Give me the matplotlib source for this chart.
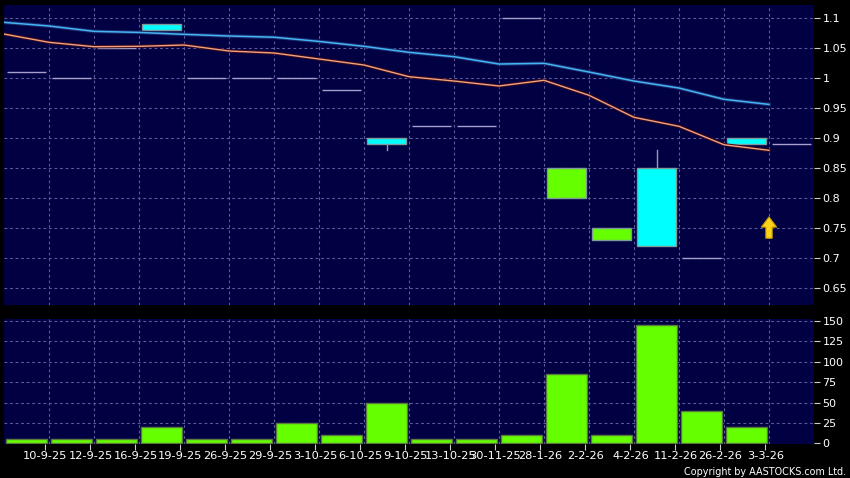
import matplotlib
matplotlib.use("Agg")
import matplotlib.pyplot as plt
import matplotlib.patheffects as pe
from matplotlib.patches import Rectangle
import numpy as np

# ---------------- data ----------------
dates = ['10-9-25', '12-9-25', '16-9-25', '19-9-25', '26-9-25', '29-9-25',
         '3-10-25', '6-10-25', '9-10-25', '13-10-25', '30-11-25', '28-1-26',
         '2-2-26', '4-2-26', '11-2-26', '26-2-26', '3-3-26']

opens  = [1.01, 1.00, 1.05, 1.08, 1.00, 1.00, 1.00, 0.98, 0.89, 0.92, 0.92, 1.10,
          0.85, 0.75, 0.72, 0.70, 0.89, 0.89]
highs  = [1.01, 1.00, 1.05, 1.09, 1.00, 1.00, 1.00, 0.98, 0.90, 0.92, 0.92, 1.10,
          0.85, 0.75, 0.88, 0.70, 0.90, 0.89]
lows   = [1.01, 1.00, 1.05, 1.08, 1.00, 1.00, 1.00, 0.98, 0.88, 0.92, 0.92, 1.10,
          0.80, 0.73, 0.72, 0.70, 0.89, 0.89]
closes = [1.01, 1.00, 1.05, 1.09, 1.00, 1.00, 1.00, 0.98, 0.90, 0.92, 0.92, 1.10,
          0.80, 0.73, 0.85, 0.70, 0.90, 0.89]

volume = [5, 5, 5, 20, 5, 5, 25, 10, 50, 5, 5, 10, 85, 10, 145, 40, 20, 0]

ma_blue = [1.0928, 1.0867, 1.0778, 1.0760, 1.0728, 1.0700, 1.0680, 1.0610, 1.0528,
           1.0428, 1.0355, 1.0233, 1.0245, 1.0100, 0.9950, 0.9833, 0.9645, 0.9560]
ma_orange = [1.0733, 1.0595, 1.0522, 1.0528, 1.0550, 1.0450, 1.0417, 1.0317, 1.0217,
             1.0022, 0.9950, 0.9867, 0.9962, 0.9712, 0.9345, 0.9195, 0.8888, 0.8795]

price_ticks = [0.65, 0.7, 0.75, 0.8, 0.85, 0.9, 0.95, 1.0, 1.05, 1.1]
vol_ticks = [0, 25, 50, 75, 100, 125, 150]

signal_price = 0.733   # yellow arrow base

# ---------------- style ----------------
BG = '#000000'
PANEL = '#000042'
GRID = '#5c5c9c'
CYAN = '#00ffff'
GREEN = '#66ff00'
DASH = '#a8a0cc'
TXT = '#ffffff'

plt.rcParams['font.family'] = ['DejaVu Sans']

fig = plt.figure(figsize=(8.5, 4.78), dpi=100, facecolor=BG)
ax = fig.add_axes([4/850, 1-305/478, 810/850, 300/478])
axv = fig.add_axes([4/850, 1-443.5/478, 810/850, 125/478])

n = len(opens)
x = np.arange(n)
ma_x = x - 0.5
tick_x = np.arange(1, n) - 0.5 - 0.08
grid_x = np.arange(1, n) - 0.5

for a in (ax, axv):
    a.set_facecolor(PANEL)
    for s in a.spines.values():
        s.set_visible(False)
    a.set_xlim(-0.5, n - 0.5)
    for gx in grid_x:
        a.axvline(gx, color=GRID, lw=0.8, ls=(0, (2.5, 2.5)), zorder=0.5)
    a.yaxis.tick_right()
    a.tick_params(axis='y', colors='#cccccc', labelcolor=TXT, length=4, width=0.8,
                  pad=2, labelsize=8)

# ---- price panel ----
ax.set_ylim(0.6217, 1.1217)
ax.set_yticks(price_ticks)
ax.set_yticklabels([f'{v:g}' for v in price_ticks])
for gy in price_ticks:
    ax.axhline(gy, color=GRID, lw=0.8, ls=(0, (2.5, 2.5)), zorder=0.5)
ax.set_xticks([])

bw = 0.85
for i in range(n):
    o, h, l, c = opens[i], highs[i], lows[i], closes[i]
    top, bot = max(o, c), min(o, c)
    if top == bot:
        ax.plot([i - bw/2, i + bw/2], [c, c], color=DASH, lw=1.0, zorder=3,
                solid_capstyle='butt')
        continue
    col = CYAN if c > o else GREEN
    if h > top:
        ax.plot([i, i], [top, h], color='#9a9ab8', lw=1.0, zorder=2)
    if l < bot:
        ax.plot([i, i], [l, bot], color='#9a9ab8', lw=1.0, zorder=2)
    ax.add_patch(Rectangle((i - bw/2, bot), bw, top - bot, facecolor=col,
                           edgecolor='#7f9a9a', lw=1.0, zorder=3))

ax.plot(ma_x, ma_blue, color='#44b4f4', lw=1.1, zorder=4,
        path_effects=[pe.Stroke(linewidth=2.6, foreground='#1a2a6a'), pe.Normal()])
ax.plot(ma_x, ma_orange, color='#f0a27c', lw=1.0, zorder=4,
        path_effects=[pe.Stroke(linewidth=2.4, foreground='#3a0a20'), pe.Normal()])

# yellow arrow
ax.arrow(ma_x[-1], signal_price, 0, 0.0355, width=0.14, head_width=0.34,
         head_length=0.017, length_includes_head=True, facecolor='#ffd21a',
         edgecolor='#c89a00', lw=0.8, zorder=6)

# ---- volume panel ----
axv.set_ylim(-0.25, 153)
axv.set_yticks(vol_ticks)
axv.set_yticklabels([str(v) for v in vol_ticks])
for gy in vol_ticks[1:]:
    axv.axhline(gy, color=GRID, lw=0.8, ls=(0, (2.5, 2.5)), zorder=0.5)
vx = [xi for xi, v in zip(x, volume) if v > 0]
vv = [v for v in volume if v > 0]
axv.bar(vx, vv, width=0.9, color=GREEN, edgecolor='#5a7a40', lw=1.0, zorder=3)
axv.set_xticks(tick_x)
axv.set_xticklabels(dates)
axv.tick_params(axis='x', colors='#cccccc', labelcolor=TXT, length=4, width=0.8,
                pad=1.5, labelsize=8.2)

fig.text(846/850, 1 - 472/478, 'Copyright by AASTOCKS.com Ltd.', color=TXT,
         fontsize=6.9, ha='right', va='center')

fig.savefig('out.png', dpi=100, facecolor=BG)
